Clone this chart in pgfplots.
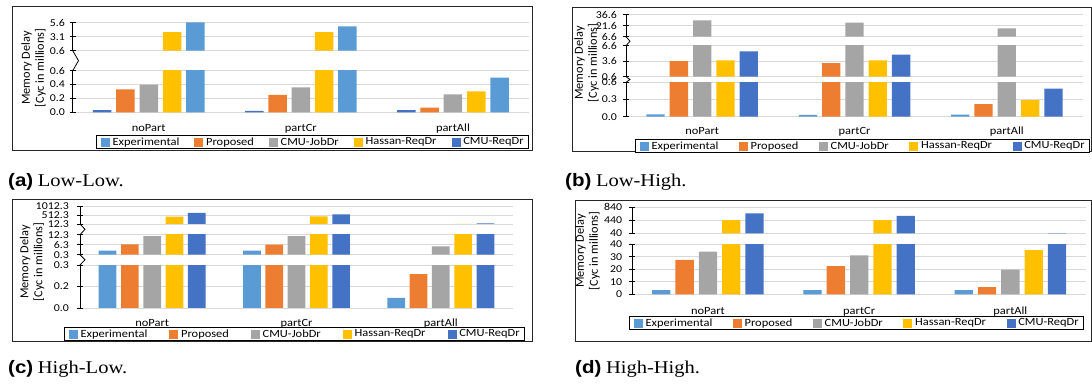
\documentclass[border=0pt]{standalone}
\usepackage{fontspec}
\setmainfont[FakeStretch=1.13]{Carlito}
\newfontfamily\ylabfont{Carlito}
\newfontfamily\capsans[FakeStretch=1.14]{Liberation Sans}
\newfontfamily\capserif[FakeStretch=1.14]{Liberation Serif}
\usepackage{pgfplots}
\usepackage{pgfplotstable}
\pgfplotsset{compat=1.18}

\definecolor{cExp}{HTML}{5B9BD5}
\definecolor{cProp}{HTML}{ED7D31}
\definecolor{cJob}{HTML}{A5A5A5}
\definecolor{cHas}{HTML}{FFC000}
\definecolor{cReq}{HTML}{4472C4}
\definecolor{gridc}{HTML}{D9D9D9}

\newcommand{\tickfont}{\fontsize{10.5}{12}\selectfont}
\newcommand{\catfont}{\fontsize{11}{13}\selectfont}
\newcommand{\legfont}{\fontsize{11}{13}\selectfont}
\newcommand{\ylabfnt}{\ylabfont\fontsize{12.3}{14}\selectfont}
\newcommand{\capfnt}{\fontsize{18}{20}\selectfont}

% columns: x, Experimental, Proposed, CMU-JobDr, Hassan-ReqDr, CMU-ReqDr
\pgfplotstableread{
x e p j h r
0 0.03 0.33 0.40 3.90 5.65
1 0.02 0.25 0.36 3.93 4.96
2 0.03 0.066 0.26 0.30 0.50
}\dataA
\pgfplotstableread{
x e p j h r
0 0.04 3.60 29.0 3.75 5.50
1 0.03 3.25 25.7 3.75 4.85
2 0.035 0.22 18.1 0.29 0.49
}\dataB
\pgfplotstableread{
x e p j h r
0 2.7 6.5 11.5 427 637
1 2.7 6.3 11.5 440 563
2 0.07 0.236 5.3 25 45
}\dataC
\pgfplotstableread{
x e p j h r
0 3.4 27.5 34.1 449 656
1 3.4 22.6 31.2 449 573
2 3.4 5.8 19.7 35.4 42
}\dataD

\pgfplotsset{
  seg/.style={
    scale only axis, anchor=south west,
    xmin=-0.5, xmax=2.5, enlargelimits=false,
    axis lines*=left, separate axis lines,
    x axis line style={draw=none},
    y axis line style={draw=black, line width=0.8pt},
    ymajorgrids, grid style={draw=gridc, line width=0.8pt},
    tick align=center, major tick length=6pt,
    ytick style={draw=black, line width=0.8pt},
    xtick style={draw=none},
    yticklabel style={font=\tickfont, inner sep=0pt, anchor=east},
    xticklabel style={font=\catfont, inner sep=0pt, anchor=base},
    clip=true, unbounded coords=discard,
  },
  cap/.style 2 args={y filter/.expression={y<#1 ? nan : min(y,#2)}},
  upper/.style={seg, xtick=\empty},
  lower/.style={seg, xtick={0,1,2}, xticklabels={noPart,partCr,partAll},
    legend columns=5, legend cell align=left},
  legbox/.style={legend style={draw=black, line width=0.8pt,
    inner xsep=4pt, inner ysep=1pt, font=\legfont, nodes={inner sep=1pt},
    /tikz/every odd column/.append style={column sep=2pt},
    /tikz/every even column/.append style={column sep=#1}}},
  sq/.style={legend image code/.code={\fill[#1] (0pt,-4pt) rectangle (8pt,4pt);}},
}

% #1 table, #2 step, #3 2*step, #4 first colour, #5 last colour, #6 {lo}{hi}
\newcommand{\bars}[6]{%
  \addplot[ybar, fill=#4, draw=none, bar shift=-#3pt, forget plot, cap=#6] table[x=x,y=e]{#1};
  \addplot[ybar, fill=cProp, draw=none, bar shift=-#2pt, forget plot, cap=#6] table[x=x,y=p]{#1};
  \addplot[ybar, fill=cJob, draw=none, bar shift=0pt, forget plot, cap=#6] table[x=x,y=j]{#1};
  \addplot[ybar, fill=cHas, draw=none, bar shift=#2pt, forget plot, cap=#6] table[x=x,y=h]{#1};
  \addplot[ybar, fill=#5, draw=none, bar shift=#3pt, forget plot, cap=#6] table[x=x,y=r]{#1};
}
\newcommand{\legitems}{%
  \addlegendimage{sq=cExp}\addlegendentry{Experimental}
  \addlegendimage{sq=cProp}\addlegendentry{Proposed}
  \addlegendimage{sq=cJob}\addlegendentry{CMU-JobDr}
  \addlegendimage{sq=cHas}\addlegendentry{Hassan-ReqDr}
  \addlegendimage{sq=cReq}\addlegendentry{CMU-ReqDr}
}

\begin{document}
\begin{tikzpicture}
\useasboundingbox (0,0) rectangle (1092pt,388pt);

% ---------- (a) Low-Low ----------
\draw[black!85, line width=1pt] (12pt,381pt) rectangle (532pt,237pt);
\begin{axis}[upper, at={(72.7pt,337.3pt)}, width=456.3pt, height=28pt,
  /pgf/bar width=18.5pt,
  ymin=0.6, ymax=5.6, ytick={0.6,3.1,5.6}, yticklabels={0.6,3.1,5.6},
  yticklabel style={xshift=-4.5pt}]
\bars{\dataA}{23.3}{46.6}{cReq}{cExp}{{0.6}{6}}
\end{axis}
\begin{axis}[lower, at={(72.7pt,275.7pt)}, width=456.3pt, height=41.6pt,
  /pgf/bar width=18.5pt,
  ymin=0, ymax=0.6, ytick={0,0.2,0.4,0.6}, yticklabels={0.0,0.2,0.4,0.6},
  yticklabel style={xshift=-4.5pt}, xticklabel style={yshift=-16.7pt},
  legbox=14pt, legend style={at={(1.0,-0.5457)}, anchor=north east}]
\bars{\dataA}{23.3}{46.6}{cReq}{cExp}{{-1}{0.7}}
\legitems
\end{axis}
\draw[black, line width=0.8pt] (72.7pt,337.3pt) -- (78.5pt,327.3pt) -- (72.7pt,317.3pt);
\node[rotate=90, align=center, font=\ylabfnt, inner sep=0pt] at (33.5pt,320pt) {Memory Delay\\{[Cyc in millions]}};
\node[anchor=base west, inner sep=0pt, font=\capfnt] at (8pt,201pt) {{\capsans\bfseries (a)} {\capserif Low-Low.}};

% ---------- (b) Low-High ----------
\draw[black!85, line width=1pt] (572pt,380pt) rectangle (1091pt,236pt);
\begin{axis}[upper, at={(626pt,351.3pt)}, width=457pt, height=22pt,
  /pgf/bar width=18.3pt,
  ymin=6.6, ymax=36.6, ytick={6.6,21.6,36.6}, yticklabels={6.6,21.6,36.6},
  yticklabel style={xshift=-6pt}]
\bars{\dataB}{23.3}{46.6}{cExp}{cReq}{{6.6}{40}}
\end{axis}
\begin{axis}[upper, at={(626pt,311.3pt)}, width=457pt, height=31pt,
  /pgf/bar width=18.3pt,
  ymin=0.6, ymax=6.6, ytick={0.6,3.6,6.6}, yticklabels={0.6,3.6,6.6},
  yticklabel style={xshift=-6pt}]
\bars{\dataB}{23.3}{46.6}{cExp}{cReq}{{0.6}{7}}
\end{axis}
\begin{axis}[lower, at={(626pt,271.3pt)}, width=457pt, height=34.4pt,
  /pgf/bar width=18.3pt,
  ymin=0, ymax=0.6, ytick={0,0.3,0.6}, yticklabels={0.0,0.3,0.6},
  yticklabel style={xshift=-6pt}, xticklabel style={yshift=-14.8pt},
  legbox=19.5pt, legend style={at={(1.0153,-0.648)}, anchor=north east}]
\bars{\dataB}{23.3}{46.6}{cExp}{cReq}{{-1}{0.7}}
\legitems
\end{axis}
\draw[black, line width=0.8pt] (626pt,351.3pt) -- (630pt,346.8pt) -- (626pt,342.3pt);
\draw[black, line width=0.8pt] (626pt,311.3pt) -- (630pt,308.5pt) -- (626pt,305.7pt);
\node[rotate=90, align=center, font=\ylabfnt, inner sep=0pt] at (586.5pt,325pt) {Memory Delay\\{[Cyc in millions]}};
\node[anchor=base west, inner sep=0pt, font=\capfnt] at (565pt,201pt) {{\capsans\bfseries (b)} {\capserif Low-High.}};

% ---------- (c) High-Low ----------
\draw[black!85, line width=1pt] (12pt,188pt) rectangle (532pt,46pt);
\begin{axis}[upper, at={(80pt,164pt)}, width=433pt, height=17.7pt,
  /pgf/bar width=17.7pt,
  ymin=12.3, ymax=1012.3, ytick={12.3,512.3,1012.3}, yticklabels={12.3,512.3,1012.3},
  yticklabel style={xshift=-8pt}]
\bars{\dataC}{22.3}{44.6}{cExp}{cReq}{{12.3}{1100}}
\end{axis}
\begin{axis}[upper, at={(80pt,133.3pt)}, width=433pt, height=20pt,
  /pgf/bar width=17.7pt,
  ymin=0.3, ymax=12.3, ytick={0.3,6.3,12.3}, yticklabels={0.3,6.3,12.3},
  yticklabel style={xshift=-8pt}]
\bars{\dataC}{22.3}{44.6}{cExp}{cReq}{{0.3}{13}}
\end{axis}
\begin{axis}[lower, at={(80pt,80pt)}, width=433pt, height=43pt,
  /pgf/bar width=17.7pt,
  ymin=0, ymax=0.3, ytick={0,0.15,0.3}, yticklabels={0.0,0.2,0.3},
  yticklabel style={xshift=-8pt}, xticklabel style={yshift=-15.5pt},
  legbox=21pt, legend style={at={(1.0277,-0.4419)}, anchor=north east}]
\bars{\dataC}{22.3}{44.6}{cExp}{cReq}{{-1}{0.35}}
\legitems
\end{axis}
\draw[black, line width=0.8pt] (80pt,164pt) -- (85pt,158.7pt) -- (80pt,153.3pt);
\draw[black, line width=0.8pt] (80pt,133.3pt) -- (85pt,128.2pt) -- (80pt,123pt);
\node[rotate=90, align=center, font=\ylabfnt, inner sep=0pt] at (32pt,126pt) {Memory Delay\\{[Cyc in millions]}};
\node[anchor=base west, inner sep=0pt, font=\capfnt] at (8pt,14pt) {{\capsans\bfseries (c)} {\capserif High-Low.}};

% ---------- (d) High-High ----------
\draw[black!85, line width=1pt] (575pt,187pt) rectangle (1091pt,46pt);
\begin{axis}[upper, at={(632.3pt,154.7pt)}, width=453.7pt, height=26pt,
  /pgf/bar width=18.3pt,
  ymin=40, ymax=840, ytick={40,440,840}, yticklabels={40,440,840},
  yticklabel style={xshift=-7pt}]
\bars{\dataD}{23.3}{46.6}{cExp}{cReq}{{40}{900}}
\end{axis}
\begin{axis}[lower, at={(632.3pt,93.7pt)}, width=453.7pt, height=50pt,
  /pgf/bar width=18.3pt,
  ymin=0, ymax=40, ytick={0,10,20,30,40}, yticklabels={0,10,20,30,40},
  yticklabel style={xshift=-7pt}, xticklabel style={yshift=-17.2pt},
  legbox=19.5pt, legend style={at={(0.9956,-0.434)}, anchor=north east}]
\bars{\dataD}{23.3}{46.6}{cExp}{cReq}{{-1}{45}}
\legitems
\end{axis}
\node[rotate=90, align=center, font=\ylabfnt, inner sep=0pt] at (587.5pt,137pt) {Memory Delay\\{[Cyc in millions]}};
\node[anchor=base west, inner sep=0pt, font=\capfnt] at (575pt,14pt) {{\capsans\bfseries (d)} {\capserif High-High.}};
\end{tikzpicture}
\end{document}
